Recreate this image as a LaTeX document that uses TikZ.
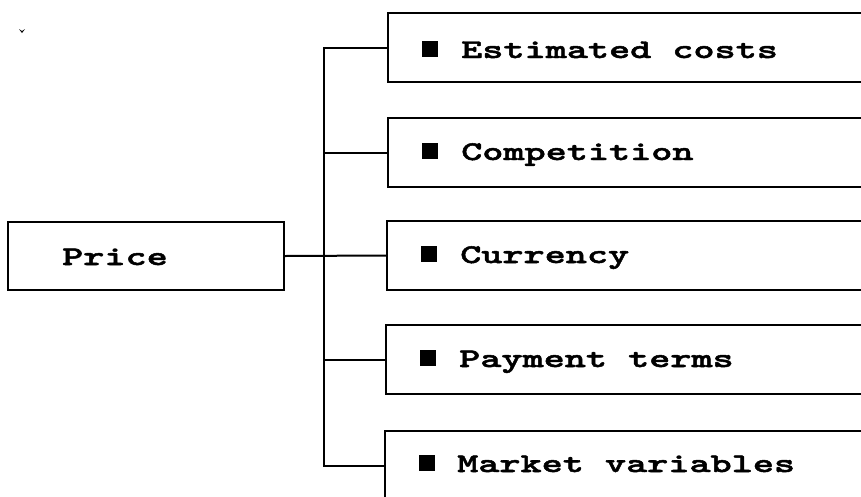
\documentclass[tikz,border=0pt]{standalone}
\usepackage{fontspec}
\usetikzlibrary{calc}
\newfontfamily\courfont{lmmonolt10-bold.otf}[FakeBold=1.8, FakeStretch=1.49]
\tikzset{
  box/.style={draw, line width=2pt, inner sep=0pt, anchor=north west, minimum width=520pt, minimum height=69pt},
  pricebox/.style={draw, line width=2pt, inner sep=0pt, anchor=north west, minimum width=276pt, minimum height=68pt},
  lbl/.style={anchor=base west, inner sep=0pt, font=\courfont\fontsize{27}{27}\selectfont},
  conn/.style={line width=2pt},
  bullet/.style={fill=black, minimum size=16pt, inner sep=0pt, anchor=south west}
}
\begin{document}
\begin{tikzpicture}[x=1pt,y=-1pt]
\useasboundingbox (0,0) rectangle (861,496);
% boxes
\node[pricebox] (p) at (7,221) {};
\node[box] (b1) at (387,12) {};
\node[box] (b2) at (387,117) {};
\node[box] (b3) at (386,220) {};
\node[box] (b4) at (385,324) {};
\node[box] (b5) at (384,430) {};
% labels
\node[lbl] (tp) at (62,265) {Price};
\node[bullet] (s1) at (422,57) {};
\node[lbl] (t1) at (461,58) {Estimated costs};
\node[bullet] (s2) at (422,159) {};
\node[lbl] (t2) at (461,160) {Competition};
\node[bullet] (s3) at (421,262) {};
\node[lbl] (t3) at (460,263) {Currency};
\node[bullet] (s4) at (420,366) {};
\node[lbl] (t4) at (459,367) {Payment terms};
\node[bullet] (s5) at (419,471) {};
\node[lbl] (t5) at (457,472) {Market variables};
% trunk
\coordinate (tt) at (324,46);
\draw[conn] (b1.west) -- (b1.west -| tt) |- (b5.west);
\draw[conn] (b2.west) -- (b2.west -| tt);
\draw[conn] (b4.west) -- (b4.west -| tt);
\draw[conn] (p.east) -- (b3.west);
% stray mark
\fill (19,29) -- (22,33) -- (25,29) -- (22,31) -- cycle;
\end{tikzpicture}
\end{document}
